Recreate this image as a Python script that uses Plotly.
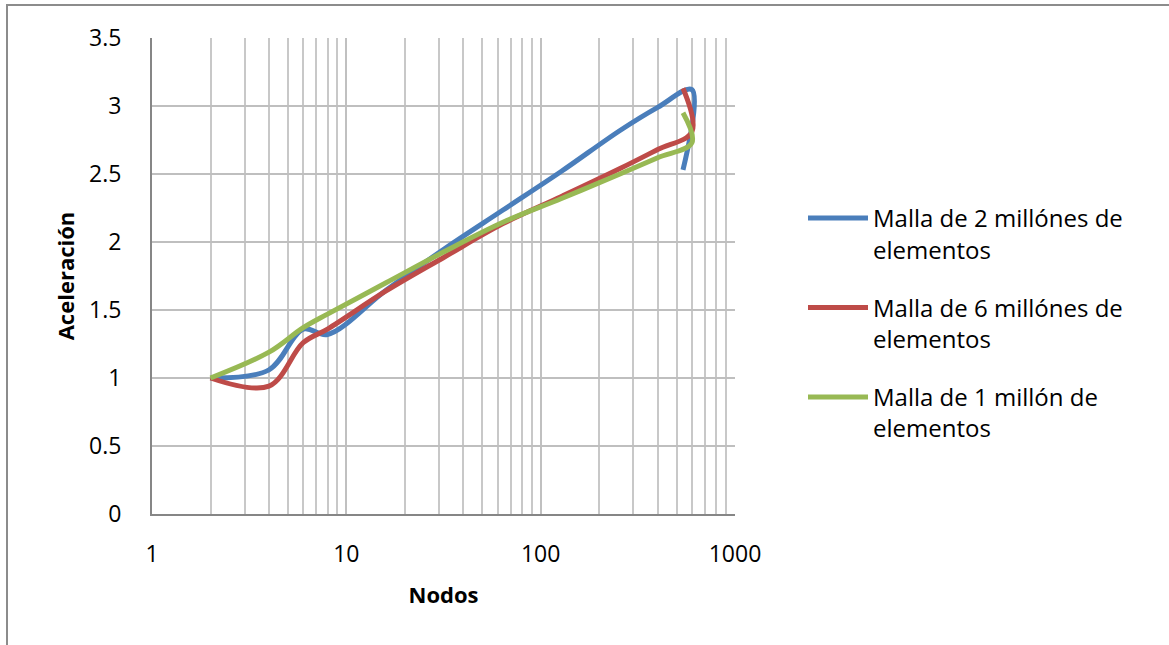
import plotly.graph_objects as go

# Data (x = Nodos, y = Aceleración)
nodos = [2, 4, 6, 8, 16, 32, 64, 128, 256, 400, 600, 540]
acel_2m = [1.0, 1.06, 1.36, 1.32, 1.645, 1.95, 2.235, 2.52, 2.82, 2.99, 3.12, 2.53]
acel_6m = [1.0, 0.94, 1.26, 1.36, 1.64, 1.89, 2.135, 2.335, 2.54, 2.68, 2.81, 3.13]
acel_1m = [1.0, 1.19, 1.37, 1.47, 1.70, 1.93, 2.145, 2.32, 2.50, 2.62, 2.73, 2.95]

series_names = [
    "Malla de 2 millónes de<br>elementos",
    "Malla de 6 millónes de<br>elementos",
    "Malla de 1 millón de<br>elementos",
]
series_vals = [acel_2m, acel_6m, acel_1m]
colors = ["#4A7EBB", "#BE4B48", "#98B954"]

x_tickvals = [1, 10, 100, 1000]
x_ticktext = ["1", "10", "100", "1000"]

FONT = "Open Sans, Noto Sans, sans-serif"

fig = go.Figure()
for i, (name, vals, col) in enumerate(zip(series_names, series_vals, colors)):
    fig.add_trace(go.Scatter(
        x=nodos, y=vals, name=name, mode="lines",
        line=dict(color=col, width=5, shape="spline", smoothing=1),
        legendgroup=str(i),
    ))

W, H = 1169, 645
L, R, T, B = 152, 735, 38, 514

def px_to_paper_x(p):
    return (p - L) / (R - L)

def px_to_paper_y(p):
    return (B - p) / (B - T)

fig.update_layout(
    width=W, height=H,
    margin=dict(l=L, r=W - R, t=T, b=H - B, pad=0),
    paper_bgcolor="white", plot_bgcolor="white",
    font=dict(family=FONT, size=23, color="#000000"),
    showlegend=True,
    legend=dict(
        x=px_to_paper_x(803), y=px_to_paper_y(196), xanchor="left", yanchor="top",
        font=dict(family=FONT, size=24, color="#000000"),
        valign="top", traceorder="grouped", tracegroupgap=24,
        itemwidth=60, bgcolor="rgba(0,0,0,0)",
    ),
    shapes=[dict(
        type="rect", xref="paper", yref="paper",
        x0=px_to_paper_x(7), x1=px_to_paper_x(1300),
        y0=px_to_paper_y(700), y1=px_to_paper_y(5),
        line=dict(color="#8C8C8C", width=2), fillcolor="rgba(0,0,0,0)", layer="below",
    )],
)

fig.update_xaxes(
    type="log", range=[0, 3],
    tickvals=x_tickvals, ticktext=x_ticktext,
    showgrid=True, gridcolor="#C0C0C0", gridwidth=1.5,
    minor=dict(dtick="D1", showgrid=True, gridcolor="#C8C8C8", gridwidth=1.5),
    showline=True, linecolor="#868686", linewidth=2,
    ticks="", ticklabelstandoff=18,
    tickfont=dict(family=FONT, size=23, color="#000000"),
    title=dict(text="<b>Nodos</b>", font=dict(family=FONT, size=22, color="#000000"), standoff=20),
    zeroline=False, mirror=False,
)
fig.update_yaxes(
    range=[0, 3.5], dtick=0.5, tick0=0,
    showgrid=True, gridcolor="#BFBFBF", gridwidth=1.5,
    showline=True, linecolor="#868686", linewidth=2,
    ticks="", ticklabelstandoff=24,
    tickfont=dict(family=FONT, size=23, color="#000000"),
    title=dict(text="<b>Aceleración</b>", font=dict(family=FONT, size=22, color="#000000"), standoff=8),
    zeroline=False,
)

fig.write_html("out.html")
